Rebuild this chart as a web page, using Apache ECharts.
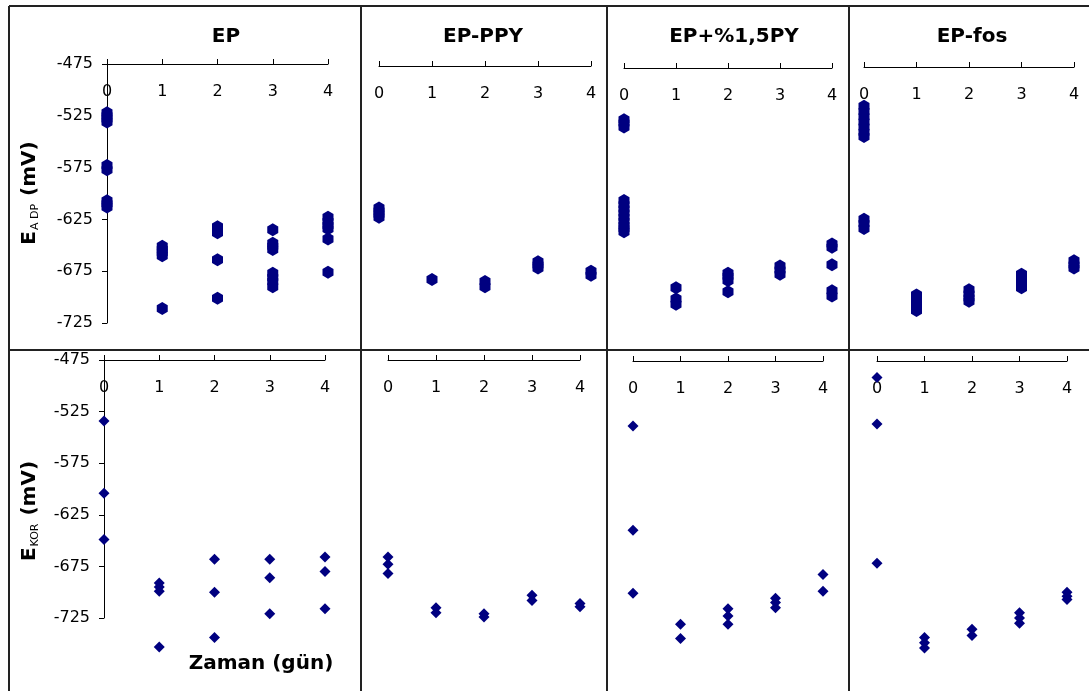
<!DOCTYPE html>
<html>
<head>
<meta charset="utf-8">
<script src="https://cdn.jsdelivr.net/npm/echarts@6/dist/echarts.min.js"></script>
<style>
html,body{margin:0;padding:0;background:#fff;}
#c{width:1089px;height:691px;}
</style>
</head>
<body>
<div id="c"></div>
<script>
// ---- data (values in mV, grouped by day) ----
const DAYS = [0, 1, 2, 3, 4];
const X_TICKS = ['0', '1', '2', '3', '4'];
const Y_TICKS = [-475, -525, -575, -625, -675, -725];
const PANEL_TITLES = ['EP', 'EP-PPY', 'EP+%1,5PY', 'EP-fos'];

// top row: E_A,DP
const EP_ADP = [[-522,-525,-528,-531,-573,-577,-607,-610,-613],[-651,-654,-657,-660,-711],[-632,-635,-638,-664,-701],[-635,-648,-651,-654,-677,-681,-685,-690],[-623,-627,-631,-634,-644,-676]];
const EPPPY_ADP = [[-612,-615,-618,-621],[-681],[-683,-688],[-664,-667,-670],[-673,-677]];
const EPPY_ADP = [[-525,-528,-532,-603,-607,-611,-615,-619,-623,-627,-630,-633],[-687,-698,-703],[-673,-676,-680,-691],[-666,-670,-674],[-645,-648,-665,-690,-695]];
const EPFOS_ADP = [[-513,-518,-523,-528,-533,-538,-542,-622,-626,-631],[-695,-700,-705,-710],[-690,-694,-698,-701],[-675,-679,-683,-688],[-662,-666,-669]];

// bottom row: E_KOR
const EP_KOR = [[-534,-604,-649],[-691,-695,-699,-753],[-668,-700,-744],[-668,-686,-721],[-666,-680,-716]];
const EPPPY_KOR = [[-666,-673,-682],[-715,-720],[-721,-724],[-703,-708],[-711,-714]];
const EPPY_KOR = [[-538,-639,-700],[-730,-744],[-715,-722,-730],[-705,-709,-714],[-682,-698]];
const EPFOS_KOR = [[-491,-536,-671],[-743,-748,-753],[-735,-741],[-719,-724,-729],[-699,-703,-706]];

const TOP_SERIES = [EP_ADP, EPPPY_ADP, EPPY_ADP, EPFOS_ADP];
const BOTTOM_SERIES = [EP_KOR, EPPPY_KOR, EPPY_KOR, EPFOS_KOR];

// ---- layout ----
const FONT = 'DejaVu Sans';
const MARK = '#000080';
const grids = [
  {left:107, top:64, width:221, height:259},
  {left:379, top:66, width:212, height:259},
  {left:624, top:68, width:208, height:259},
  {left:864, top:67, width:210, height:259},
  {left:104, top:360, width:221, height:258},
  {left:388, top:360, width:192, height:258},
  {left:633, top:361, width:190, height:258},
  {left:877, top:361, width:190, height:258}
];

function toPoints(groups) {
  const pts = [];
  groups.forEach((vals, i) => vals.forEach(v => pts.push([DAYS[i], v])));
  return pts;
}

const xAxes = [], yAxes = [], series = [];
grids.forEach((g, i) => {
  const first = (i % 4) === 0;
  const top = i < 4;
  xAxes.push({
    gridIndex: i, type: 'value', position: 'top',
    min: DAYS[0], max: DAYS[DAYS.length - 1], interval: 1,
    axisLine: {show: true, onZero: false, lineStyle: {color: '#000', width: 1}},
    axisTick: {show: true, inside: false, length: 5, lineStyle: {color: '#000'}},
    axisLabel: {show: true, inside: true, margin: 20, color: '#000', fontFamily: FONT, fontSize: 16,
      formatter: v => X_TICKS[DAYS.indexOf(v)]},
    splitLine: {show: false}
  });
  yAxes.push({
    gridIndex: i, type: 'value', show: first,
    min: Y_TICKS[Y_TICKS.length - 1], max: Y_TICKS[0], interval: 50,
    axisLine: {show: true, onZero: false, lineStyle: {color: '#000', width: 1}},
    axisTick: {show: true, inside: false, length: 5, lineStyle: {color: '#000'}},
    axisLabel: {show: true, margin: 14, color: '#000', fontFamily: FONT, fontSize: 16},
    splitLine: {show: false}
  });
  const groups = top ? TOP_SERIES[i] : BOTTOM_SERIES[i - 4];
  series.push({
    type: 'scatter', xAxisIndex: i, yAxisIndex: i, clip: false,
    symbol: top ? 'path://M5,0 L10,3 L10,9 L5,12 L0,9 L0,3 Z' : 'diamond',
    symbolSize: top ? [11, 13] : [11, 11],
    itemStyle: {color: MARK, opacity: 1},
    data: toPoints(groups),
    silent: true
  });
});

const lineStyle = {stroke: '#222', lineWidth: 2};
const graphic = [
  {type: 'line', shape: {x1: 9, y1: 6, x2: 1089, y2: 6}, style: lineStyle},
  {type: 'line', shape: {x1: 9, y1: 6, x2: 9, y2: 691}, style: lineStyle},
  {type: 'line', shape: {x1: 361, y1: 6, x2: 361, y2: 691}, style: lineStyle},
  {type: 'line', shape: {x1: 607, y1: 6, x2: 607, y2: 691}, style: lineStyle},
  {type: 'line', shape: {x1: 849, y1: 6, x2: 849, y2: 691}, style: lineStyle},
  {type: 'line', shape: {x1: 9, y1: 350, x2: 1089, y2: 350}, style: lineStyle}
];
const titleX = [226, 483, 734, 972];
PANEL_TITLES.forEach((t, i) => {
  graphic.push({type: 'text', x: titleX[i], y: 37,
    style: {text: t, font: 'bold 20px "' + FONT + '"', fill: '#000', align: 'center', verticalAlign: 'middle'}});
});
const nameRich = {
  b: {fontFamily: FONT, fontWeight: 'bold', fontSize: 20, fill: '#000', color: '#000'},
  s: {fontFamily: FONT, fontSize: 11, fill: '#000', color: '#000', padding: [10, 1, 0, 1]}
};
graphic.push({type: 'text', x: 30, y: 193, rotation: Math.PI / 2,
  style: {text: '{b|E}{s|A DP}{b| (mV)}', rich: nameRich, align: 'center', verticalAlign: 'middle'}});
graphic.push({type: 'text', x: 30, y: 511, rotation: Math.PI / 2,
  style: {text: '{b|E}{s|KOR}{b| (mV)}', rich: nameRich, align: 'center', verticalAlign: 'middle'}});
graphic.push({type: 'text', x: 261, y: 664,
  style: {text: 'Zaman (gün)', font: 'bold 20px "' + FONT + '"', fill: '#000', align: 'center', verticalAlign: 'middle'}});

const chart = echarts.init(document.getElementById('c'), null, {renderer: 'canvas'});
chart.setOption({
  backgroundColor: '#fff',
  animation: false,
  grid: grids,
  xAxis: xAxes,
  yAxis: yAxes,
  series: series,
  graphic: graphic
});
</script>
</body>
</html>
